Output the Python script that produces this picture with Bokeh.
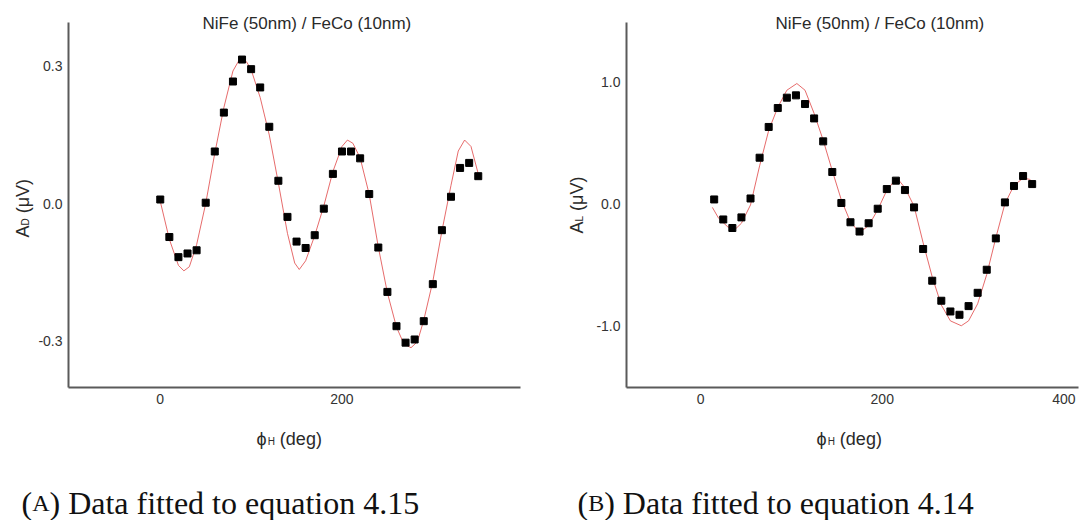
import math
from bokeh.plotting import figure
from bokeh.models import Range1d, Label, FixedTicker, NumeralTickFormatter
from bokeh.layouts import row
from bokeh.embed import file_html
from bokeh.resources import INLINE

# ---------------- data ----------------
title_text = "NiFe (50nm) / FeCo (10nm)"

phi_d = [0, 10, 20, 30, 40, 50, 60, 70, 80, 90, 100, 110, 120, 130, 140, 150, 160, 170,
         180, 190, 200, 210, 220, 230, 240, 250, 260, 270, 280, 290, 300, 310, 320, 330, 340, 350]
a_d = [0.009, -0.073, -0.117, -0.109, -0.102, 0.002, 0.114, 0.199, 0.267, 0.315, 0.294, 0.254,
       0.168, 0.050, -0.029, -0.083, -0.097, -0.069, -0.011, 0.065, 0.114, 0.114, 0.099, 0.021,
       -0.096, -0.193, -0.268, -0.304, -0.297, -0.257, -0.176, -0.058, 0.015, 0.078, 0.089, 0.060]

fit_d_phi = [0, 10, 20, 26, 32, 40, 50, 60, 70, 80, 88, 95, 100, 110, 120, 130, 140, 148, 153,
             160, 170, 180, 190, 200, 206, 212, 220, 230, 240, 250, 260, 268, 276, 283, 290, 300,
             310, 320, 328, 335, 342, 350]
fit_d = [0.005, -0.078, -0.135, -0.147, -0.138, -0.09, 0.0, 0.11, 0.21, 0.29, 0.318, 0.31,
         0.293, 0.232, 0.15, 0.045, -0.065, -0.13, -0.144, -0.125, -0.07, -0.005, 0.07, 0.125,
         0.139, 0.132, 0.10, 0.02, -0.095, -0.195, -0.27, -0.306, -0.315, -0.302, -0.255, -0.17,
         -0.06, 0.04, 0.115, 0.139, 0.125, 0.065]

phi_l = [15, 25, 35, 45, 55, 65, 75, 85, 95, 105, 115, 125, 135, 145, 155, 165, 175, 185,
         195, 205, 215, 225, 235, 245, 255, 265, 275, 285, 295, 305, 315, 325, 335, 345, 355, 365]
a_l = [0.035, -0.129, -0.199, -0.112, 0.043, 0.377, 0.629, 0.784, 0.869, 0.888, 0.817, 0.699,
       0.511, 0.260, 0.006, -0.152, -0.228, -0.160, -0.041, 0.120, 0.189, 0.112, -0.030, -0.371,
       -0.631, -0.795, -0.883, -0.910, -0.839, -0.730, -0.541, -0.284, 0.011, 0.145, 0.227, 0.161]

fit_l_phi = [13, 20, 30, 38, 45, 55, 65, 75, 85, 95, 106, 115, 125, 135, 145, 155, 165, 175,
             185, 195, 205, 212, 218, 225, 235, 245, 255, 265, 275, 287, 295, 305, 315, 325,
             335, 345, 355, 362, 367]
fit_l = [-0.03, -0.12, -0.19, -0.21, -0.16, -0.01, 0.31, 0.60, 0.79, 0.93, 0.985, 0.93, 0.74,
         0.52, 0.27, 0.03, -0.15, -0.235, -0.18, -0.05, 0.11, 0.175, 0.195, 0.13, -0.02, -0.32,
         -0.60, -0.83, -0.96, -1.0, -0.96, -0.82, -0.58, -0.28, 0.0, 0.15, 0.21, 0.2, 0.17]

x_ticks_d = [0, 200]
y_ticks_d = [-0.3, 0.0, 0.3]
x_ticks_l = [0, 200, 400]
y_ticks_l = [-1.0, 0.0, 1.0]

x_box_d = (-101, 396.5)
y_box_d = (-0.402, 0.396)
x_box_l = (-81.5, 416)
y_box_l = (-1.506, 1.485)

caption_a = ("A", ") Data fitted to equation 4.15")
caption_b = ("B", ") Data fitted to equation 4.14")

SANS = "Liberation Sans"
SERIF = "Liberation Serif"
H = 520          # figure height
TOP_PAGE = 0     # page y of figure top (as rendered)
BOX_TOP = 22     # page y of plot box top
BOX_BOT = 387    # page y of plot box bottom
LAB = 18         # axis-label font size
SUB = 10         # subscript font size


def panel(width, page_left, box_left, box_right, xbox, ybox, xt, yt, px, py, fx, fy,
          sub_y, sub_w, title_x, ylab_x, ylab_y, xlab_x, cap, cap_x, cap_w):
    kx = (box_right - box_left) / (xbox[1] - xbox[0])
    ky = (BOX_BOT - BOX_TOP) / (ybox[1] - ybox[0])
    x0 = xbox[0] - (box_left - page_left) / kx
    x1 = x0 + width / kx
    y1 = ybox[1] + (BOX_TOP - TOP_PAGE) / ky
    y0 = y1 - H / ky

    p = figure(width=width, height=H, x_range=Range1d(x0, x1), y_range=Range1d(y0, y1),
               output_backend="svg", toolbar_location=None,
               min_border_left=0, min_border_right=0, min_border_top=0, min_border_bottom=0,
               outline_line_color=None, background_fill_color="white", border_fill_color="white")
    p.title.visible = False
    p.xgrid.visible = False
    p.ygrid.visible = False
    for ax in (p.xaxis[0], p.yaxis[0]):
        ax.axis_line_color = "#5a5a5a"
        ax.axis_line_width = 2
        ax.major_tick_line_color = None
        ax.minor_tick_line_color = None
        ax.major_tick_out = 0
        ax.major_tick_in = 0
        ax.major_label_text_font = SANS
        ax.major_label_text_font_size = "14px"
        ax.major_label_text_color = "#333333"
        ax.major_label_standoff = 6
    p.xaxis[0].fixed_location = ybox[0]
    p.xaxis[0].bounds = xbox
    p.yaxis[0].fixed_location = xbox[0]
    p.yaxis[0].bounds = ybox
    p.xaxis[0].ticker = FixedTicker(ticks=xt)
    p.yaxis[0].ticker = FixedTicker(ticks=yt)
    p.yaxis[0].formatter = NumeralTickFormatter(format="0.0")

    p.line(fx, fy, line_color="#e35b5b", line_width=1, line_alpha=0.9)
    p.scatter(px, py, marker="square", size=7, fill_color="black", line_color="black")

    def lab(text, page_x, page_y, size, font=SANS, angle=0.0, color="#2a2a2a"):
        p.add_layout(Label(x=page_x - page_left, y=(TOP_PAGE + H) - page_y,
                           x_units="screen", y_units="screen", text=text,
                           text_font=font, text_font_size=f"{size}px", angle=angle,
                           text_color=color, text_align="left", text_baseline="alphabetic"))

    # title
    lab(title_text, title_x, 23, 17)
    # y-axis label A_sub (µV), rotated (reads bottom to top)
    a_w = 0.667 * LAB
    sp = 0.278 * LAB
    lab("A", ylab_x, ylab_y, LAB, angle=math.pi / 2)
    lab(sub_y, ylab_x + 3, ylab_y - a_w, SUB, angle=math.pi / 2)
    lab("(\u03bcV)", ylab_x, ylab_y - a_w - sub_w - sp, LAB, angle=math.pi / 2)
    # x-axis label phi_H (deg)
    phi_w = 0.62 * LAB
    lab("\u03d5", xlab_x, 438, LAB)
    lab("H", xlab_x + phi_w, 441, SUB)
    lab("(deg)", xlab_x + phi_w + 7.2 + sp, 438, LAB)
    # caption with small-caps letter
    lab("(", cap_x, 502, 32, font=SERIF, color="#111111")
    lab(cap[0], cap_x + 10.7, 502, 24, font=SERIF, color="#111111")
    lab(cap[1], cap_x + 10.7 + cap_w, 502, 32, font=SERIF, color="#111111")
    return p


p1 = panel(568, 0, 68, 520, x_box_d, y_box_d, x_ticks_d, y_ticks_d,
           phi_d, a_d, fit_d_phi, fit_d, "D", 7.2, 202, 22, 237, 256, caption_a, 21, 17.3)
p2 = panel(512, 568, 626, 1078, x_box_l, y_box_l, x_ticks_l, y_ticks_l,
           phi_l, a_l, fit_l_phi, fit_l, "L", 5.6, 775, 576, 233, 816, caption_b, 577, 16.0)

layout = row(p1, p2)
open("out.html", "w").write(file_html(layout, INLINE))
